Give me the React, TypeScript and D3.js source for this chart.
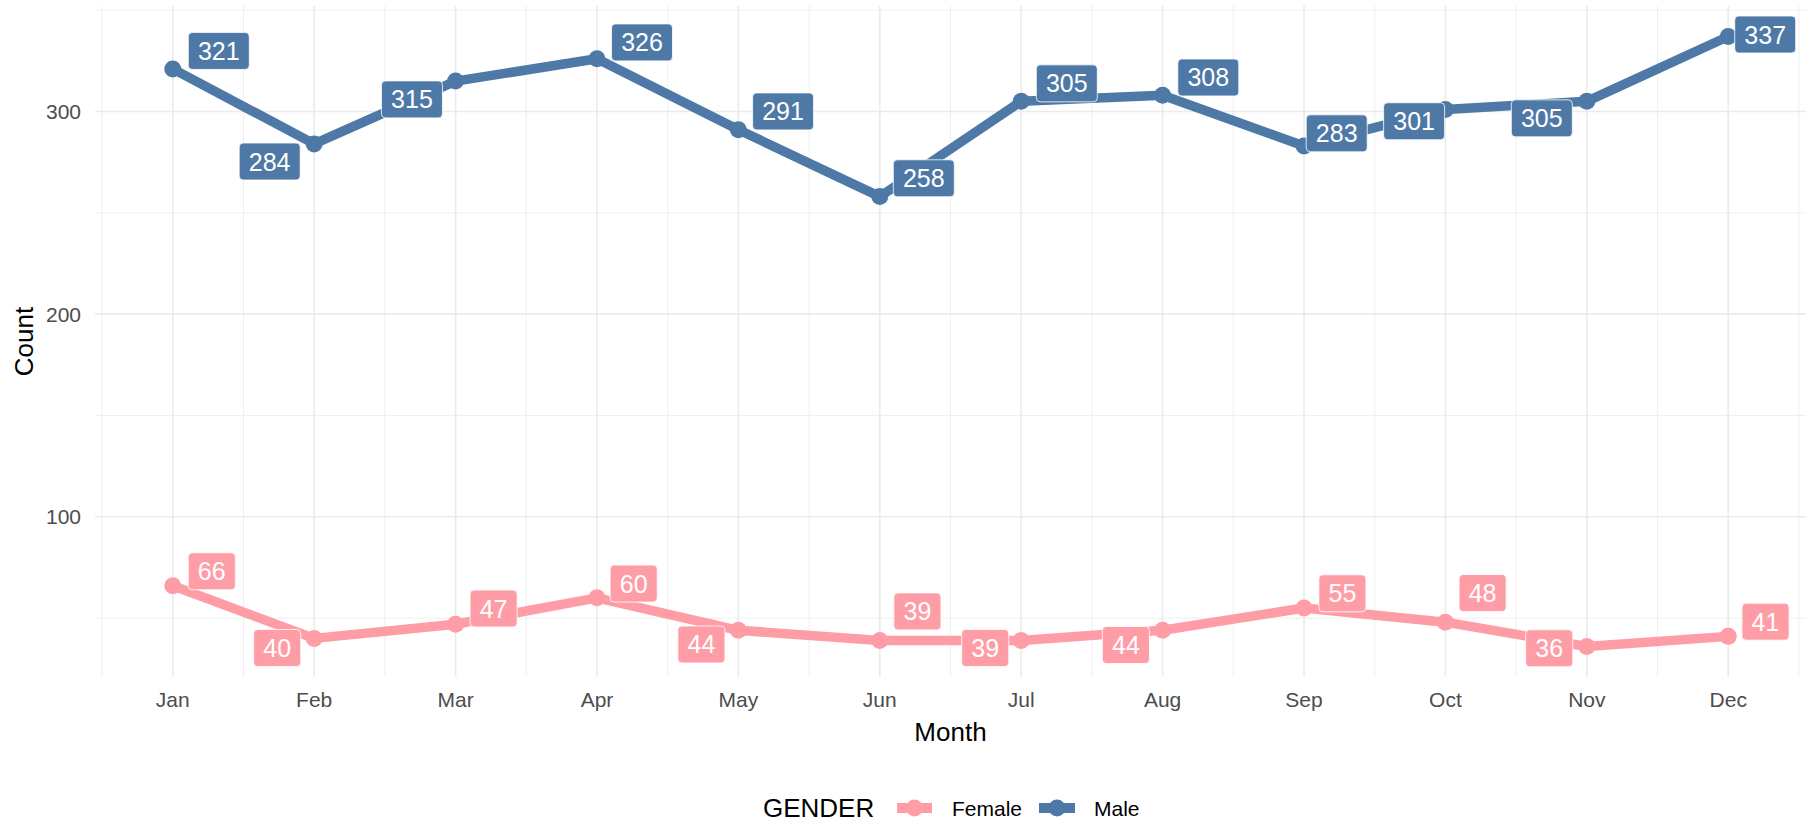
import React from 'react';
import * as d3 from 'd3';

const months = ['Jan', 'Feb', 'Mar', 'Apr', 'May', 'Jun', 'Jul', 'Aug', 'Sep', 'Oct', 'Nov', 'Dec'];
const maleCounts = [321, 284, 315, 326, 291, 258, 305, 308, 283, 301, 305, 337];
const femaleCounts = [66, 40, 47, 60, 44, 39, 39, 44, 55, 48, 36, 41];
const yTicks = [100, 200, 300];
const yMinor = [50, 150, 250, 350];

// repel-style label nudges (px) relative to each point
const maleNudge: [number, number][] = [
  [46, -18], [-44.5, 17.6], [-43.6, 18.3], [45, -16.4], [44.7, -18.3], [44, -18.3],
  [45.6, -18], [45.7, -17.8], [32.7, -12.6], [-31.3, 11.8], [-45, 17], [37, -2],
];
const femaleNudge: [number, number][] = [
  [39, -14.4], [-37, 9.6], [38, -15.7], [36.7, -14.3], [-37, 14.2], [37.6, -29],
  [-36, 7.6], [-36.7, 14.7], [38.4, -14.7], [37.2, -29.2], [-37.6, 1.8], [37.3, -14.7],
];

const W = 1813;
const H = 825;
const FONT = '"Liberation Sans", Arial, sans-serif';
const MALE = '#4E79A7';
const FEMALE = '#FF9DA7';
const GRID = '#ebebeb';

const panel = { left: 95, right: 1806, top: 6, bottom: 677 };

const x = d3.scaleLinear().domain([0.45, 12.55]).range([panel.left, panel.right]);
const y = d3.scaleLinear().domain([20.95, 352.05]).range([panel.bottom, panel.top]);

const line = d3.line<number>()
  .x((_, i) => x(i + 1))
  .y(d => y(d));

const Series: React.FC<{ values: number[]; color: string }> = ({ values, color }) => (
  <g>
    <path d={line(values) || ''} fill="none" stroke={color} strokeWidth={9.5} strokeLinejoin="round" />
    {values.map((v, i) => (
      <circle key={i} cx={x(i + 1)} cy={y(v)} r={8.5} fill={color} />
    ))}
  </g>
);

const Labels: React.FC<{ values: number[]; nudges: [number, number][]; color: string }> = ({ values, nudges, color }) => (
  <g>
    {values.map((v, i) => {
      const cx = x(i + 1) + nudges[i][0];
      const cy = y(v) + nudges[i][1];
      const txt = String(v);
      const w = txt.length * 13.9 + 19.3;
      const h = 37;
      return (
        <g key={i}>
          <rect x={cx - w / 2} y={cy - h / 2} width={w} height={h} rx={4} fill={color} stroke="#ffffff" strokeWidth={0.8} />
          <text x={cx} y={cy + 9} textAnchor="middle" fill="#ffffff" fontSize={25} fontFamily={FONT}>{txt}</text>
        </g>
      );
    })}
  </g>
);

const App: React.FC = () => {
  const monthIdx = d3.range(1, 13);
  const minorX = d3.range(0.5, 13, 1);
  return (
    <div style={{ position: 'absolute', left: 0, top: 0 }}>
      <svg width={W} height={H} style={{ display: 'block', background: '#fff' }}>
        {/* grid */}
        <g>
          {yMinor.map(t => (
            <line key={'ym' + t} x1={panel.left} x2={panel.right} y1={y(t)} y2={y(t)} stroke={GRID} strokeWidth={0.8} />
          ))}
          {minorX.map(t => (
            <line key={'xm' + t} x1={x(t)} x2={x(t)} y1={panel.top} y2={panel.bottom} stroke={GRID} strokeWidth={0.8} />
          ))}
          {yTicks.map(t => (
            <line key={'y' + t} x1={panel.left} x2={panel.right} y1={y(t)} y2={y(t)} stroke={GRID} strokeWidth={1.6} />
          ))}
          {monthIdx.map(t => (
            <line key={'x' + t} x1={x(t)} x2={x(t)} y1={panel.top} y2={panel.bottom} stroke={GRID} strokeWidth={1.6} />
          ))}
        </g>

        {/* axes text */}
        <g fontFamily={FONT} fill="#4d4d4d" fontSize={21}>
          {yTicks.map(t => (
            <text key={t} x={81} y={y(t) + 7.5} textAnchor="end">{t}</text>
          ))}
          {months.map((m, i) => (
            <text key={m} x={x(i + 1)} y={707} textAnchor="middle">{m}</text>
          ))}
        </g>
        <text x={(panel.left + panel.right) / 2} y={741} textAnchor="middle" fontFamily={FONT} fontSize={26} fill="#000">Month</text>
        <text transform={`translate(33,${(panel.top + panel.bottom) / 2}) rotate(-90)`} textAnchor="middle" fontFamily={FONT} fontSize={26} fill="#000">Count</text>

        {/* series */}
        <Series values={femaleCounts} color={FEMALE} />
        <Series values={maleCounts} color={MALE} />
        <Labels values={femaleCounts} nudges={femaleNudge} color={FEMALE} />
        <Labels values={maleCounts} nudges={maleNudge} color={MALE} />

        {/* legend */}
        <g fontFamily={FONT} fill="#000">
          <text x={763} y={817} fontSize={26}>GENDER</text>
          <line x1={897} x2={932} y1={808} y2={808} stroke={FEMALE} strokeWidth={10} />
          <circle cx={914.5} cy={808} r={8.5} fill={FEMALE} />
          <text x={952} y={816} fontSize={21}>Female</text>
          <line x1={1039} x2={1075} y1={808} y2={808} stroke={MALE} strokeWidth={10} />
          <circle cx={1057} cy={808} r={8.5} fill={MALE} />
          <text x={1094} y={816} fontSize={21}>Male</text>
        </g>
      </svg>
    </div>
  );
};

export default App;
